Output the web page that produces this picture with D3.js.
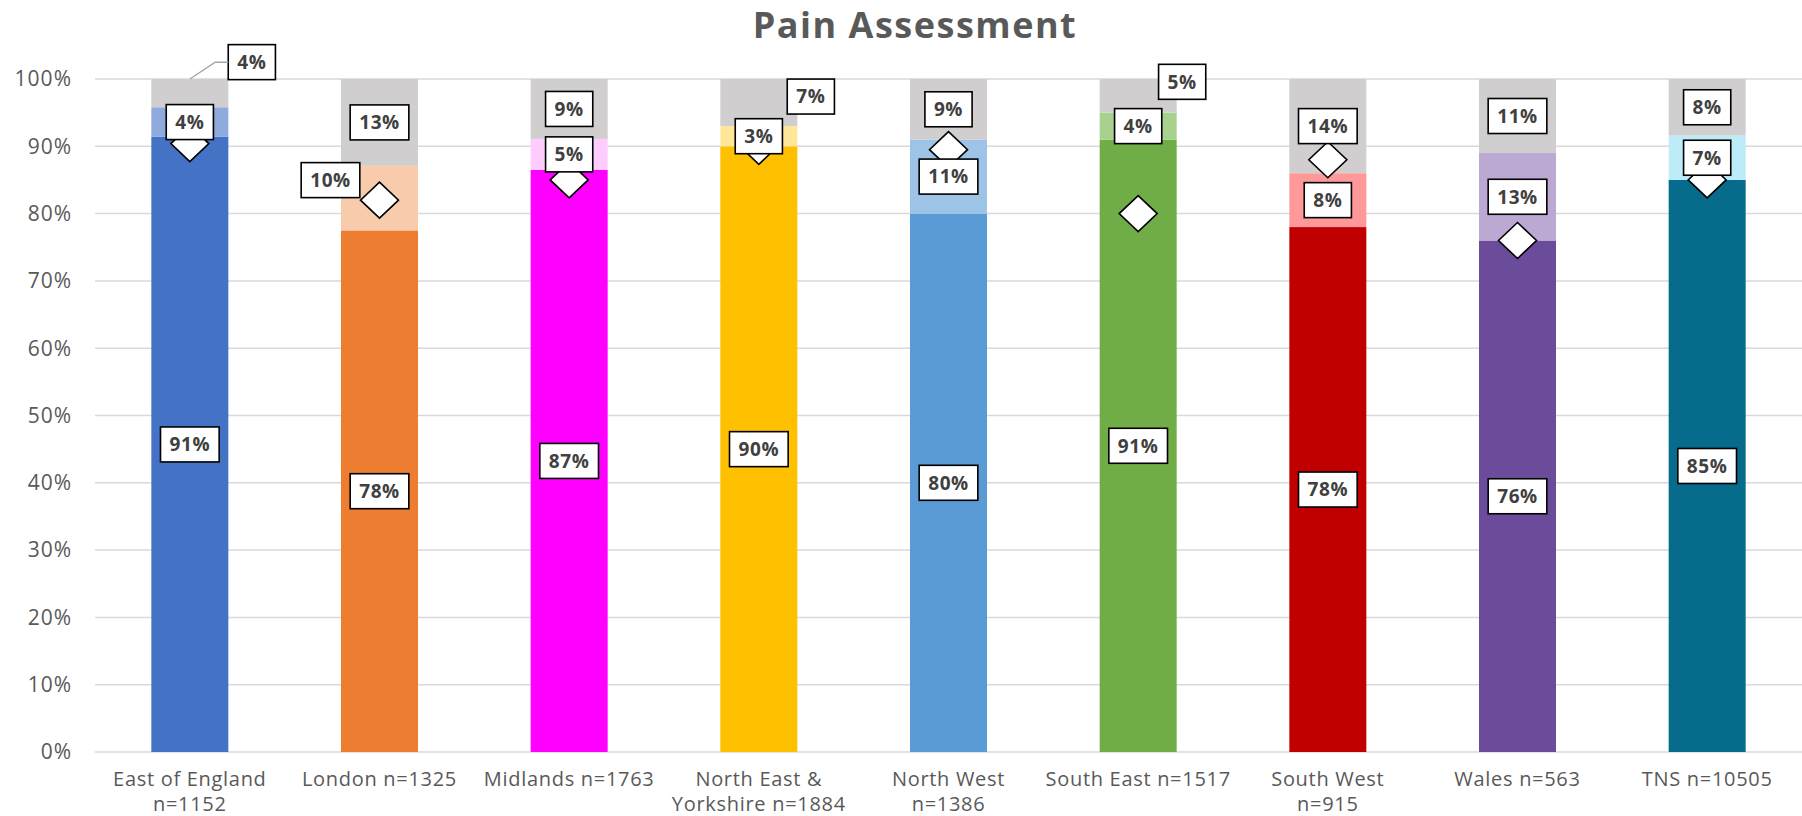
<!DOCTYPE html>
<html>
<head>
<meta charset="utf-8">
<script src="https://cdn.jsdelivr.net/npm/d3@7"></script>
<style>
  body { margin: 0; background: #fff; }
  text { font-family: "Open Sans", sans-serif; }
</style>
</head>
<body>
<svg class="myDataviz" width="1802" height="816"></svg>
<script>
// chart values (percent)
const categories = ["East of England\nn=1152", "London n=1325", "Midlands n=1763", "North East &\nYorkshire n=1884",
  "North West\nn=1386", "South East n=1517", "South West\nn=915", "Wales n=563", "TNS n=10505"];
const baseValues   = [91.4, 77.5, 86.5, 90.0, 80.0, 91.0, 78.0, 76.0, 85.0];
const extraValues  = [4.4, 9.6, 4.6, 3.0, 11.0, 4.0, 8.0, 13.0, 6.6];
const remainValues = [4.2, 12.9, 8.9, 7.0, 9.0, 5.0, 14.0, 11.0, 8.4];
const markerValues = [90.4, 82, 85, 90, 89.5, 80, 88, 76, 85];
const yTicks = [0, 10, 20, 30, 40, 50, 60, 70, 80, 90, 100];

const darkColors  = ["#4472C4", "#ED7D31", "#FF00FF", "#FFC000", "#5B9BD5", "#70AD47", "#C00000", "#6A4C9A", "#076B8C"];
const lightColors = ["#8FAADC", "#F8CBAD", "#FFCCFF", "#FFE699", "#9DC3E6", "#A9D18E", "#FF9999", "#BBA9D4", "#BDEBF8"];
const greyColor = "#D0CECE";

// manual label moves (like dragged labels in the original)
const nudges = {
  "0-remain": [62, -31, true],
  "1-extra": [-49, -18, false],
  "3-remain": [52, -6, false],
  "5-remain": [44, -14, false]
};

const width = 1802, height = 816;
const margin = { top: 79, right: 0, bottom: 64, left: 95 };

const svg = d3.select(".myDataviz");

const x = d3.scaleBand()
  .domain(categories)
  .range([margin.left, width - margin.right])
  .paddingInner(0.594)
  .paddingOuter(0.297);

const y = d3.scaleLinear()
  .domain([0, 100])
  .range([height - margin.bottom, margin.top]);

// gridlines + y labels
svg.append("g")
  .selectAll("line")
  .data(yTicks)
  .join("line")
    .attr("x1", margin.left).attr("x2", width - margin.right)
    .attr("y1", d => y(d)).attr("y2", d => y(d))
    .attr("stroke", "#D9D9D9")
    .attr("stroke-width", 1.5);

svg.append("g")
  .selectAll("text")
  .data(yTicks)
  .join("text")
    .attr("x", 72)
    .attr("y", d => y(d))
    .attr("dy", "0.35em")
    .attr("text-anchor", "end")
    .attr("font-size", 21)
    .attr("letter-spacing", 1)
    .attr("fill", "#595959")
    .text(d => d + "%");

// stacked segments
const rows = categories.map((c, i) => ({
  cat: c, i: i,
  segs: [
    { key: "base", y0: 0, y1: baseValues[i], v: baseValues[i], color: darkColors[i] },
    { key: "extra", y0: baseValues[i], y1: baseValues[i] + extraValues[i], v: extraValues[i], color: lightColors[i] },
    { key: "remain", y0: baseValues[i] + extraValues[i], y1: baseValues[i] + extraValues[i] + remainValues[i], v: remainValues[i], color: greyColor }
  ]
}));

const barG = svg.append("g")
  .selectAll("g")
  .data(rows)
  .join("g");

barG.selectAll("rect")
  .data(d => d.segs.map(s => Object.assign({ cat: d.cat }, s)))
  .join("rect")
    .attr("x", d => x(d.cat))
    .attr("width", x.bandwidth())
    .attr("y", d => y(d.y1))
    .attr("height", d => y(d.y0) - y(d.y1))
    .attr("fill", d => d.color);

// diamond markers
svg.append("g")
  .selectAll("path")
  .data(markerValues)
  .join("path")
    .attr("transform", (d, i) => `translate(${x(categories[i]) + x.bandwidth() / 2},${y(d)})`)
    .attr("d", "M0,-18L19,0L0,18L-19,0Z")
    .attr("fill", "#fff")
    .attr("stroke", "#000")
    .attr("stroke-width", 1.6)
    .attr("stroke-linejoin", "miter");

// data labels
const labels = [];
rows.forEach(r => r.segs.forEach(s => {
  const n = nudges[r.i + "-" + s.key] || [0, 0, false];
  const cx = x(r.cat) + x.bandwidth() / 2;
  const cy = y((s.y0 + s.y1) / 2);
  labels.push({ text: Math.round(s.v) + "%", cx: cx, cy: cy, lx: cx + n[0], ly: cy + n[1], leader: n[2], top: y(s.y1) });
}));

const labG = svg.append("g")
  .selectAll("g")
  .data(labels)
  .join("g")
    .attr("transform", d => `translate(${d.lx},${d.ly})`);

labG.append("text")
  .attr("text-anchor", "middle")
  .attr("dy", "0.36em")
  .attr("font-size", 19)
  .attr("letter-spacing", 0.6)
  .attr("font-weight", 700)
  .attr("fill", "#404040")
  .text(d => d.text);

labG.each(function () {
  const g = d3.select(this);
  const bb = g.select("text").node().getBBox();
  g.insert("rect", "text")
    .attr("x", bb.x - 9)
    .attr("y", -17.5)
    .attr("width", bb.width + 18)
    .attr("height", 35)
    .attr("fill", "#fff")
    .attr("stroke", "#000")
    .attr("stroke-width", 1.6);
});

// leader line for moved label
svg.append("g")
  .selectAll("path")
  .data(labels.filter(d => d.leader))
  .join("path")
    .attr("d", d => {
      const w = d3.select(labG.filter(e => e === d).node()).select("rect").attr("width");
      const left = d.lx - w / 2;
      return `M${d.cx},${d.top}L${left - 13},${d.ly}L${left},${d.ly}`;
    })
    .attr("fill", "none")
    .attr("stroke", "#A6A6A6")
    .attr("stroke-width", 1.5);

// x axis labels
svg.append("g")
  .selectAll("text")
  .data(categories)
  .join("text")
    .attr("x", d => x(d) + x.bandwidth() / 2)
    .attr("y", 786)
    .attr("text-anchor", "middle")
    .attr("font-size", 20)
    .attr("letter-spacing", 0.7)
    .attr("fill", "#595959")
    .selectAll("tspan")
    .data(d => d.split("\n"))
    .join("tspan")
      .attr("x", function () { return d3.select(this.parentNode).attr("x"); })
      .attr("dy", (d, i) => i === 0 ? 0 : 25)
      .text(d => d);

// title
svg.append("text")
  .attr("x", 915)
  .attr("y", 38)
  .attr("text-anchor", "middle")
  .attr("font-size", 36)
  .attr("letter-spacing", 1.5)
  .attr("font-weight", 700)
  .attr("fill", "#595959")
  .text("Pain Assessment");
</script>
</body>
</html>
